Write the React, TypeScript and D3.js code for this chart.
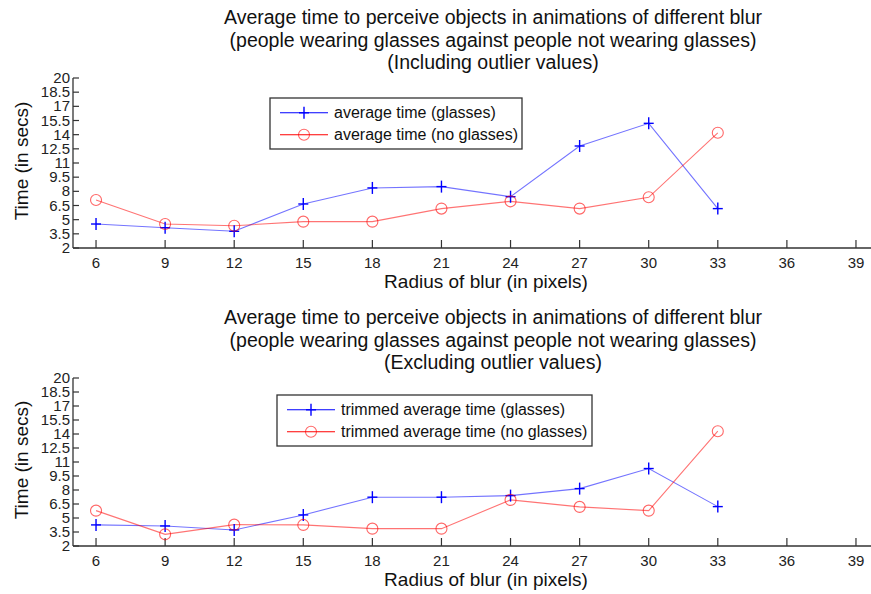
import React from "react";
import * as d3 from "d3";

// Blur radius (pixels) at which each average was measured
const radii = [6, 9, 12, 15, 18, 21, 24, 27, 30, 33];
const xTicks = [6, 9, 12, 15, 18, 21, 24, 27, 30, 33, 36, 39];
const yTicks = [2, 3.5, 5, 6.5, 8, 9.5, 11, 12.5, 14, 15.5, 17, 18.5, 20];

// Average times including outliers (secs)
const avgGlasses = [4.54, 4.15, 3.77, 6.66, 8.36, 8.5, 7.43, 12.8, 15.2, 6.17];
const avgNoGlasses = [7.08, 4.54, 4.36, 4.79, 4.79, 6.17, 6.94, 6.17, 7.37, 14.2];

// Trimmed averages excluding outliers (secs)
const trimGlasses = [4.26, 4.15, 3.72, 5.33, 7.23, 7.23, 7.4, 8.15, 10.3, 6.22];
const trimNoGlasses = [5.79, 3.25, 4.29, 4.26, 3.86, 3.86, 6.94, 6.19, 5.79, 14.3];

const titleTop = [
  "Average time to perceive objects in animations of different blur",
  "(people wearing glasses against people not wearing glasses)",
  "(Including outlier values)",
];
const titleBottom = [
  "Average time to perceive objects in animations of different blur",
  "(people wearing glasses against people not wearing glasses)",
  "(Excluding outlier values)",
];
const legendTop = ["average time (glasses)", "average time (no glasses)"];
const legendBottom = ["trimmed average time (glasses)", "trimmed average time (no glasses)"];

const FONT = "'Liberation Sans', Arial, sans-serif";
const AXIS = "#333";
const BLUE = "#0000ff";
const RED = "#ff0000";

type PanelProps = {
  top: number; // y pixel of value 20
  bottom: number; // y pixel of value 2
  titleY: number;
  titles: string[];
  glasses: number[];
  noGlasses: number[];
  legend: string[];
  legendBox: { x: number; y: number; w: number; h: number };
};

function Plus({ x, y }: { x: number; y: number }) {
  const s = 5;
  return (
    <g stroke={BLUE} strokeWidth={1.4}>
      <line x1={x - s} x2={x + s} y1={y} y2={y} />
      <line x1={x} x2={x} y1={y - s - 1} y2={y + s + 1} />
    </g>
  );
}

function Ring({ x, y }: { x: number; y: number }) {
  return <circle cx={x} cy={y} r={5.5} fill="none" stroke={RED} strokeOpacity={0.6} strokeWidth={1.1} />;
}

function Panel({ top, bottom, titleY, titles, glasses, noGlasses, legend, legendBox }: PanelProps) {
  const x = d3.scaleLinear().domain([5, 40]).range([73, 879]);
  const y = d3.scaleLinear().domain([2, 20]).range([bottom, top]);
  const line = d3
    .line<number>()
    .x((_, i) => x(radii[i]))
    .y((d) => y(d));
  const row1 = legendBox.y + legendBox.h * 0.29;
  const row2 = legendBox.y + legendBox.h * 0.72;
  return (
    <g>
      {titles.map((t, i) => (
        <text
          key={i}
          x={493}
          y={titleY + i * 22.5}
          textAnchor="middle"
          fontSize={19.5}
          fontFamily={FONT}
          fill="#111"
        >
          {t}
        </text>
      ))}
      {/* axes */}
      <line x1={73} x2={879} y1={bottom} y2={bottom} stroke={AXIS} strokeWidth={1.3} />
      <line x1={73} x2={73} y1={top} y2={bottom} stroke={AXIS} strokeWidth={1.3} />
      {xTicks.map((t) => (
        <g key={t}>
          <line x1={x(t)} x2={x(t)} y1={bottom} y2={bottom - 8} stroke={AXIS} strokeWidth={1.2} />
          <text x={x(t)} y={bottom + 20} textAnchor="middle" fontSize={15} fontFamily={FONT} fill="#222">
            {t}
          </text>
        </g>
      ))}
      {yTicks.map((t) => (
        <g key={t}>
          <line x1={73} x2={79} y1={y(t)} y2={y(t)} stroke={AXIS} strokeWidth={1.2} />
          <text x={70} y={y(t) + 5} textAnchor="end" fontSize={15} fontFamily={FONT} fill="#222">
            {t}
          </text>
        </g>
      ))}
      <text
        transform={`translate(${28},${(top + bottom) / 2 - 2}) rotate(-90)`}
        textAnchor="middle"
        fontSize={19}
        fontFamily={FONT}
        fill="#111"
      >
        Time (in secs)
      </text>
      <text x={486} y={bottom + 40} textAnchor="middle" fontSize={19} fontFamily={FONT} fill="#111">
        Radius of blur (in pixels)
      </text>
      {/* series */}
      <path d={line(glasses) ?? ""} fill="none" stroke={BLUE} strokeOpacity={0.55} strokeWidth={1.1} />
      <path d={line(noGlasses) ?? ""} fill="none" stroke={RED} strokeOpacity={0.55} strokeWidth={1.1} />
      {glasses.map((v, i) => (
        <Plus key={"g" + i} x={x(radii[i])} y={y(v)} />
      ))}
      {noGlasses.map((v, i) => (
        <Ring key={"n" + i} x={x(radii[i])} y={y(v)} />
      ))}
      {/* legend */}
      <rect
        x={legendBox.x}
        y={legendBox.y}
        width={legendBox.w}
        height={legendBox.h}
        fill="#fff"
        stroke="#333"
        strokeWidth={1.3}
      />
      <line x1={legendBox.x + 10} x2={legendBox.x + 58} y1={row1} y2={row1} stroke={BLUE} strokeWidth={1.1} />
      <Plus x={legendBox.x + 34} y={row1} />
      <line x1={legendBox.x + 10} x2={legendBox.x + 58} y1={row2} y2={row2} stroke={RED} strokeWidth={1.1} />
      <Ring x={legendBox.x + 34} y={row2} />
      <text x={legendBox.x + 64} y={row1 + 5.5} fontSize={16} fontFamily={FONT} fill="#111">
        {legend[0]}
      </text>
      <text x={legendBox.x + 64} y={row2 + 5.5} fontSize={16} fontFamily={FONT} fill="#111">
        {legend[1]}
      </text>
    </g>
  );
}

export default function App() {
  return (
    <svg
      width={871}
      height={594}
      style={{ position: "absolute", left: 0, top: 0, background: "#fff" }}
    >
      <rect width={871} height={594} fill="#fff" />
      <Panel
        top={78}
        bottom={248}
        titleY={24}
        titles={titleTop}
        glasses={avgGlasses}
        noGlasses={avgNoGlasses}
        legend={legendTop}
        legendBox={{ x: 270, y: 98, w: 252, h: 51 }}
      />
      <Panel
        top={378}
        bottom={546}
        titleY={324}
        titles={titleBottom}
        glasses={trimGlasses}
        noGlasses={trimNoGlasses}
        legend={legendBottom}
        legendBox={{ x: 277, y: 395, w: 315, h: 51 }}
      />
    </svg>
  );
}
